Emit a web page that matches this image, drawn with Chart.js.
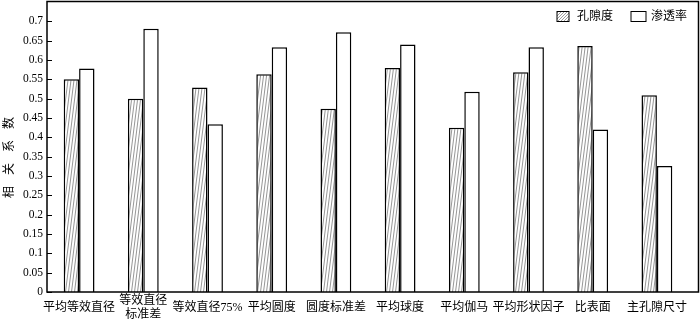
<!DOCTYPE html>
<html><head><meta charset="utf-8">
<script src="https://cdn.jsdelivr.net/npm/chart.js@4"></script>
<style>html,body{margin:0;padding:0;background:#fff}#w{width:700px;height:320px}</style>
</head><body><div id="w"><canvas id="c" width="700" height="320"></canvas></div>
<script>
const categories = ['平均等效直径', ['等效直径','标准差'], '等效直径75%', '平均圆度', '圆度标准差', '平均球度', '平均伽马', '平均形状因子', '比表面', '主孔隙尺寸'];
const porosity = [0.55, 0.50, 0.529, 0.563, 0.474, 0.579, 0.425, 0.568, 0.636, 0.509];
const permeability = [0.578, 0.681, 0.434, 0.633, 0.672, 0.640, 0.518, 0.633, 0.420, 0.326];
const seriesNames = ['孔隙度', '渗透率'];
const yTicks = [0,0.05,0.1,0.15,0.2,0.25,0.3,0.35,0.4,0.45,0.5,0.55,0.6,0.65,0.7];
const yTitle = ['相','关','系','数'];

const FONT = '"Liberation Serif","Times New Roman","Noto Sans CJK SC",serif';

function makeHatch(){
  const p = document.createElement('canvas');
  p.width = 3; p.height = 24;
  const g = p.getContext('2d');
  g.fillStyle = '#fff'; g.fillRect(0,0,3,24);
  g.strokeStyle = '#8a8a8a'; g.lineWidth = 0.9;
  for (const o of [-3,0,3]) {
    g.beginPath(); g.moveTo(o,24); g.lineTo(o+3,0); g.stroke();
  }
  return document.getElementById('c').getContext('2d').createPattern(p,'repeat');
}
const hatch = makeHatch();
function makeLegendHatch(){
  const p = document.createElement('canvas');
  p.width = 3; p.height = 3;
  const g = p.getContext('2d');
  g.fillStyle = '#fff'; g.fillRect(0,0,3,3);
  g.strokeStyle = '#888'; g.lineWidth = 0.8;
  for (const o of [-3,0,3]) { g.beginPath(); g.moveTo(o,3); g.lineTo(o+3,0); g.stroke(); }
  return document.getElementById('c').getContext('2d').createPattern(p,'repeat');
}
const legendHatch = makeLegendHatch();

const framePlugin = {
  id: 'frame',
  afterDraw(chart){
    const {ctx, chartArea:a, scales:{x, y}} = chart;
    ctx.save();
    ctx.strokeStyle = '#000'; ctx.lineWidth = 1.5;
    ctx.strokeRect(a.left, 1.5, 698.5 - a.left, a.bottom - 1.5);
    ctx.lineWidth = 1;
    for (const v of yTicks) {
      const py = Math.round(y.getPixelForValue(v)) + 0.5;
      ctx.beginPath(); ctx.moveTo(a.left, py); ctx.lineTo(a.left+5, py); ctx.stroke();
    }
    // x labels
    ctx.fillStyle = '#000'; ctx.font = '12px ' + FONT; ctx.textAlign = 'center'; ctx.textBaseline = 'middle';
    categories.forEach((c, i) => {
      const px = x.getPixelForValue(i);
      if (Array.isArray(c)) {
        ctx.fillText(c[0], px, 301);
        ctx.fillText(c[1], px, 314.5);
      } else {
        ctx.fillText(c, px, 308);
      }
    });
    // y title
    yTitle.forEach((ch, i) => {
      ctx.save();
      ctx.translate(10, 192 - i * 23);
      ctx.rotate(-Math.PI/2);
      ctx.fillText(ch, 0, 0);
      ctx.restore();
    });
    // legend
    const ly = 11.5;
    ctx.fillStyle = legendHatch; ctx.fillRect(557, ly, 12, 10);
    ctx.strokeStyle = '#000'; ctx.lineWidth = 1; ctx.strokeRect(557, ly, 12, 10);
    ctx.fillStyle = '#fff'; ctx.fillRect(631, ly, 15, 10);
    ctx.strokeRect(631, ly, 15, 10);
    ctx.fillStyle = '#000'; ctx.font = '12px ' + FONT; ctx.textBaseline = 'middle'; ctx.textAlign = 'left';
    ctx.fillText(seriesNames[0], 577, ly+5);
    ctx.fillText(seriesNames[1], 651, ly+5);
    ctx.restore();
  }
};

new Chart(document.getElementById('c'), {
  type: 'bar',
  data: {
    labels: categories,
    datasets: [
      {label: seriesNames[0], data: porosity, backgroundColor: hatch, borderColor: '#000', borderWidth: 1.5, borderSkipped: 'bottom'},
      {label: seriesNames[1], data: permeability, backgroundColor: '#fff', borderColor: '#000', borderWidth: 1.5, borderSkipped: 'bottom'}
    ]
  },
  options: {
    responsive: false, animation: false,
    devicePixelRatio: 1,
    layout: {padding: {top: 2, right: 11, left: 0, bottom: 0}},
    datasets: {bar: {categoryPercentage: 0.48, barPercentage: 1}},
    plugins: {legend: {display: false}, tooltip: {enabled: false}},
    scales: {
      x: {
        grid: {display: false, drawTicks: false},
        border: {display: false},
        ticks: {display: false},
        afterFit(s){ s.height = 28; s.paddingLeft = 0; s.paddingRight = 0; }
      },
      y: {
        min: 0, max: 0.75,
        afterBuildTicks(s){ s.ticks = yTicks.map(v => ({value: v})); },
        grid: {display: false, drawTicks: false},
        border: {display: false},
        ticks: {color: '#000', font: {family: FONT, size: 11.5}, padding: 4,
          callback: v => String(Number(v.toFixed(2)))},
        afterFit(s){ s.width = 47; s.paddingTop = 0; s.paddingBottom = 0; }
      }
    }
  },
  plugins: [framePlugin]
});
</script>
</body></html>
